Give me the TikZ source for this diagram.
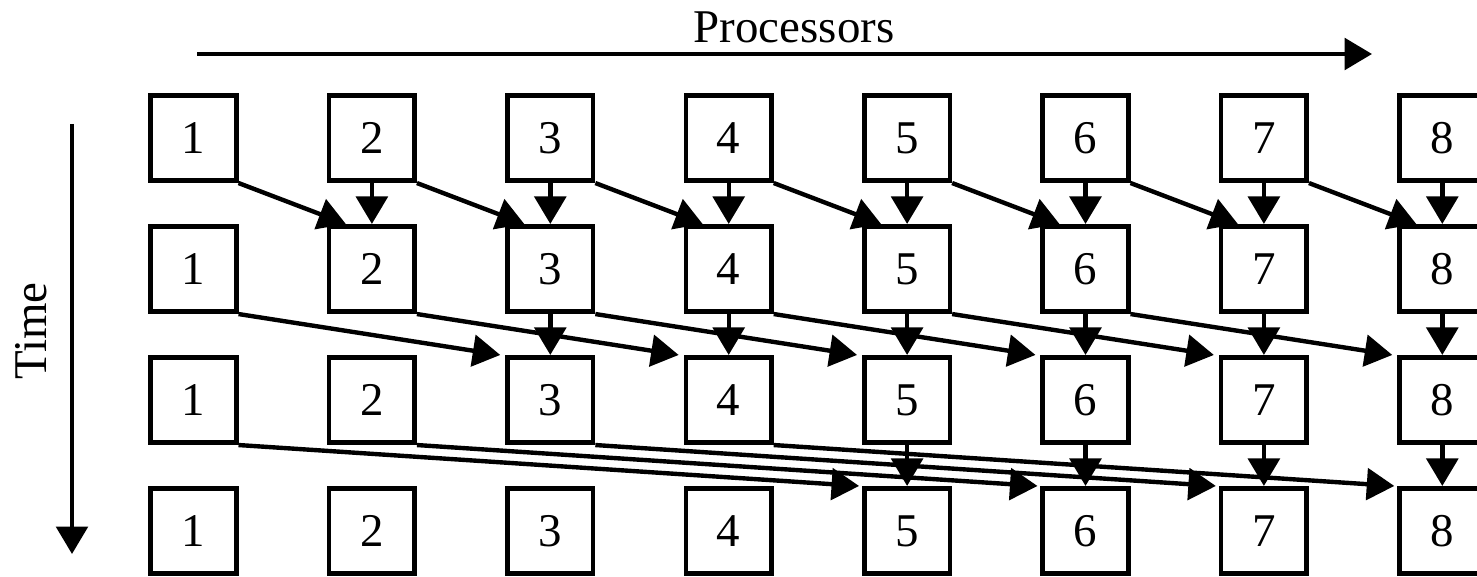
\documentclass[tikz,border=0pt]{standalone}
\usepackage{fontspec}
\setmainfont{Liberation Serif}
\usetikzlibrary{arrows.meta,positioning}
\tikzset
{
    procbox/.style = {rectangle, draw=black, align=center, minimum size=1.71cm, line width=2.6pt, inner sep=0pt},
    msg/.style     = {line width=2.5pt}
}

\begin{document}
\begin{tikzpicture}[->, >={Triangle[length=0.55cm, width=0.63cm]}, font=\fontsize{26.7}{32}\selectfont]
    \clip (-3.87,2.76) rectangle (25.67,-8.76);
    % one row of processors per time step
    \foreach \r in {1,...,4}
        \foreach \c in {1,...,8}
            \node [procbox] (p\r-\c) at ({(\c-1)*3.568}, {-(\r-1)*2.62}) {\c};
    % messages to the right and the own value down
    \foreach \r/\s/\dx in {1/1/0.38, 2/2/-0.1, 3/4/-0.06}
    {
        \pgfmathtruncatemacro\n{\r+1}
        \pgfmathtruncatemacro\last{8-\s}
        \foreach \c in {1,...,\last}
        {
            \pgfmathtruncatemacro\d{\c+\s}
            \draw [msg] (p\r-\c.south east) -- ([xshift=\dx cm]p\n-\d.north west);
            \draw [msg] (p\r-\d.south) -- (p\n-\d.north);
        }
    }
    % axes
    \coordinate (proc tail) at (0.07,1.68);
    \coordinate (proc head) at (23.57,1.68);
    \draw [msg] (proc tail) -- (proc head);
    \node [anchor=base] (proc label) at (12.01,1.9) {Processors};
    \coordinate (time tail) at (-2.43,0.28);
    \coordinate (time head) at (-2.43,-8.32);
    \draw [msg] (time tail) -- (time head);
    \node [rotate=90, anchor=base] (time label) at (-2.93,-3.86) {Time};
\end{tikzpicture}
\end{document}
